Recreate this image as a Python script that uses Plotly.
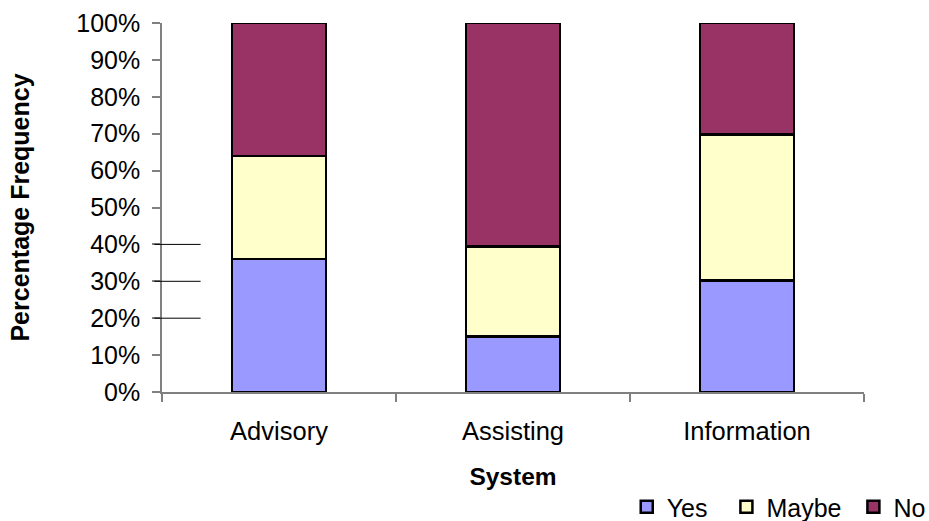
import plotly.graph_objects as go

# Share of responses per system type (fractions of 1)
systems = ["Advisory", "Assisting", "Information"]
yes_share = [0.361, 0.151, 0.302]
maybe_share = [0.278, 0.243, 0.396]
no_share = [0.361, 0.606, 0.302]

# Legend labels (trailing no-break spaces widen the gap to the next entry)
series_names = ["Yes\u00a0\u00a0", "Maybe\u00a0", "No"]
series_values = [yes_share, maybe_share, no_share]
series_colors = ["#9999FF", "#FFFFCC", "#993366"]

# Reference levels marked next to the y axis
marker_levels = [0.2, 0.3, 0.4]

FONT = "Liberation Sans, Arial, sans-serif"

fig = go.Figure()
for name, vals, color in zip(series_names, series_values, series_colors):
    fig.add_trace(go.Bar(
        name=name,
        x=systems,
        y=vals,
        width=0.4,
        marker=dict(color=color, line=dict(color="#000000", width=2.5)),
    ))

for lvl in marker_levels:
    fig.add_shape(type="line", xref="paper", yref="y",
                  x0=-0.011, x1=0.055, y0=lvl, y1=lvl,
                  line=dict(color="#000000", width=1))

fig.update_layout(
    width=929, height=521,
    barmode="stack",
    paper_bgcolor="white", plot_bgcolor="white",
    margin=dict(l=162, r=65, t=23, b=129, autoexpand=False),
    font=dict(family=FONT, color="#000000", size=25),
    showlegend=True,
    legend=dict(
        orientation="h",
        x=0.662, xanchor="left",
        y=-0.3117, yanchor="middle",
        font=dict(size=25, family=FONT),
        itemwidth=30,
        traceorder="normal",
        bgcolor="rgba(0,0,0,0)",
    ),
    xaxis=dict(
        type="category",
        range=[-0.5, 2.5],
        automargin=False,
        showline=True, linecolor="#808080", linewidth=1.5,
        ticks="outside", tickson="boundaries", ticklen=8,
        tickcolor="#808080", tickwidth=1.5,
        ticklabelstandoff=16,
        showgrid=False, zeroline=False,
        tickfont=dict(size=25.5),
        title=dict(text="<b>System</b>", font=dict(size=24.5), standoff=24),
    ),
    yaxis=dict(
        range=[0, 1],
        automargin=False,
        dtick=0.1, tickformat=".0%",
        showline=True, linecolor="#808080", linewidth=1.5,
        ticks="outside", ticklen=8,
        tickcolor="#808080", tickwidth=1.5,
        ticklabelstandoff=7,
        showgrid=False, zeroline=False,
        tickfont=dict(size=25),
        title=dict(text="<b>Percentage Frequency</b>", font=dict(size=25), standoff=40),
    ),
)

fig.write_html("out.html")
